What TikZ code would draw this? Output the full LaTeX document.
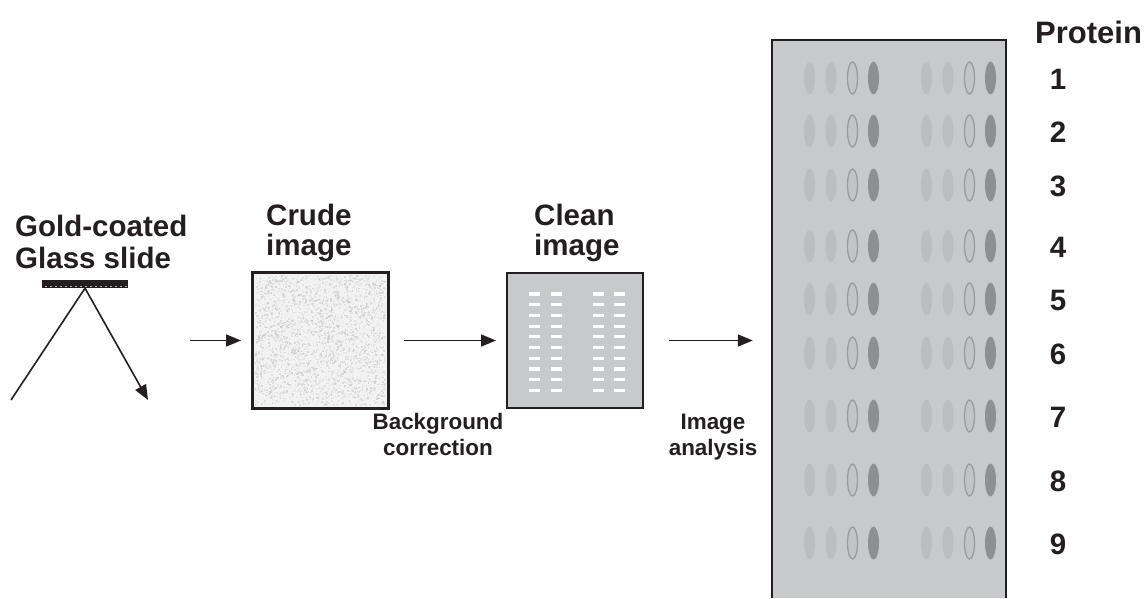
\documentclass[tikz,border=0pt]{standalone}
\usepackage{fontspec}
\setmainfont{Liberation Sans}
\usetikzlibrary{arrows.meta}
\definecolor{edge}{HTML}{231F20}
\definecolor{panelbg}{HTML}{C8C9CB}
\definecolor{elight}{HTML}{BCBDC0}
\definecolor{eline}{HTML}{9A9B9E}
\definecolor{efill}{HTML}{C3C4C6}
\definecolor{edark}{HTML}{8E8F92}
\definecolor{noise}{HTML}{C4C5C7}
\begin{document}
\begin{tikzpicture}[x=1pt,y=-1pt,
  bigtxt/.style={inner sep=0pt,font=\fontsize{29.5}{34}\selectfont\bfseries,text=edge},
  smalltxt/.style={inner sep=0pt,font=\fontsize{22.4}{26}\selectfont\bfseries,text=edge},
  imgbox/.style={draw=edge,line width=2pt,inner sep=0pt},
  arr/.style={draw=edge,line width=1.6pt,-{Triangle[length=15pt,width=12pt]}},
  spotl/.style={fill=elight,draw=none},
  spoto/.style={fill=efill,draw=eline,line width=1.3pt},
  spotd/.style={fill=edark,draw=none}]
\useasboundingbox (0,0) rectangle (1145,598);

% slide and beam
\node[fill=edge,inner sep=0pt,minimum width=86pt,minimum height=8pt] (slide) at (85,284) {};
\foreach \k in {0,...,16}{\fill[gray!60] (44.5+\k*5,285.5) rectangle ++(2.5,1.6);}
\coordinate (beamin) at (11,400);
\coordinate (beamout) at (148,400);
\draw[edge,line width=1.6pt] (slide.south) -- (beamin);
\draw[arr] (slide.south) -- (beamout);
\node[bigtxt,anchor=base west] (gold1) at (15,236) {Gold-coated};
\node[bigtxt,anchor=base west] (gold2) at (15,268) {Glass slide};

% crude image
\node[imgbox,fill=white!95!black,minimum width=135pt,minimum height=135pt] (crude) at (320.5,340.5) {};
\pgfmathsetseed{11}
\foreach \i in {1,...,2600}{
  \pgfmathsetmacro\xx{254.5+130*rnd}
  \pgfmathsetmacro\yy{274.5+130*rnd}
  \pgfmathsetmacro\oo{0.15+0.45*rnd}
  \fill[noise,opacity=\oo] (\xx,\yy) rectangle ++(1.6,1.6);
}
\draw[edge,line width=2pt] (crude.north west) rectangle (crude.south east);
\node[bigtxt,anchor=base west] (crude1) at (266,225) {Crude};
\node[bigtxt,anchor=base west] (crude2) at (266,255) {image};

% clean image
\node[imgbox,fill=panelbg,minimum width=136pt,minimum height=135pt] (clean) at (575,340.5) {};
\foreach \r in {0,...,9}{
  \foreach \cx in {534.5,556,598,619.5}{
    \fill[white] (\cx-5.5,294+\r*10.7-1.6) rectangle (\cx+5.5,294+\r*10.7+1.6);
  }
}
\node[bigtxt,anchor=base west] (clean1) at (534,225) {Clean};
\node[bigtxt,anchor=base west] (clean2) at (534,255) {image};

% panel
\node[fill=panelbg,inner sep=0pt,minimum width=234pt,minimum height=558pt] (panel) at (889,319) {};
\draw[edge,line width=2pt] (panel.south west) -- (panel.north west) -- (panel.north east) -- (panel.south east);
\foreach \ry/\lab in {78/1,131/2,185/3,246/4,299/5,353/6,416/7,480/8,543/9}{
  \foreach \g in {0,117}{
    \fill[spotl] (809.5+\g,\ry) ellipse (5.5 and 16.5);
    \fill[spotl] (831+\g,\ry) ellipse (5.5 and 16.5);
    \draw[spoto] (852.5+\g,\ry) ellipse (5 and 16);
    \fill[spotd] (873.5+\g,\ry) ellipse (5.5 and 16.5);
  }
  \node[bigtxt] (num\lab) at (1058,\ry+1) {\lab};
}
\node[bigtxt,font=\fontsize{31}{36}\selectfont\bfseries,anchor=base west] (protein) at (1035,43) {Protein};

% arrows
\coordinate (src) at (190,340.5);
\draw[arr] (src) -- ([xshift=-11pt]crude.west);
\draw[arr] ([xshift=15pt]crude.east) -- ([xshift=-10pt]clean.west);
\coordinate (a3e) at (panel.west |- clean.east);
\draw[arr] ([xshift=25pt]clean.east) -- ([xshift=-19pt]a3e);

\node[smalltxt,anchor=base] (bg1) at (438,429) {Background};
\node[smalltxt,anchor=base] (bg2) at (438,455) {correction};
\node[smalltxt,anchor=base] (ia1) at (713,429) {Image};
\node[smalltxt,anchor=base] (ia2) at (713,455) {analysis};
\end{tikzpicture}
\end{document}
